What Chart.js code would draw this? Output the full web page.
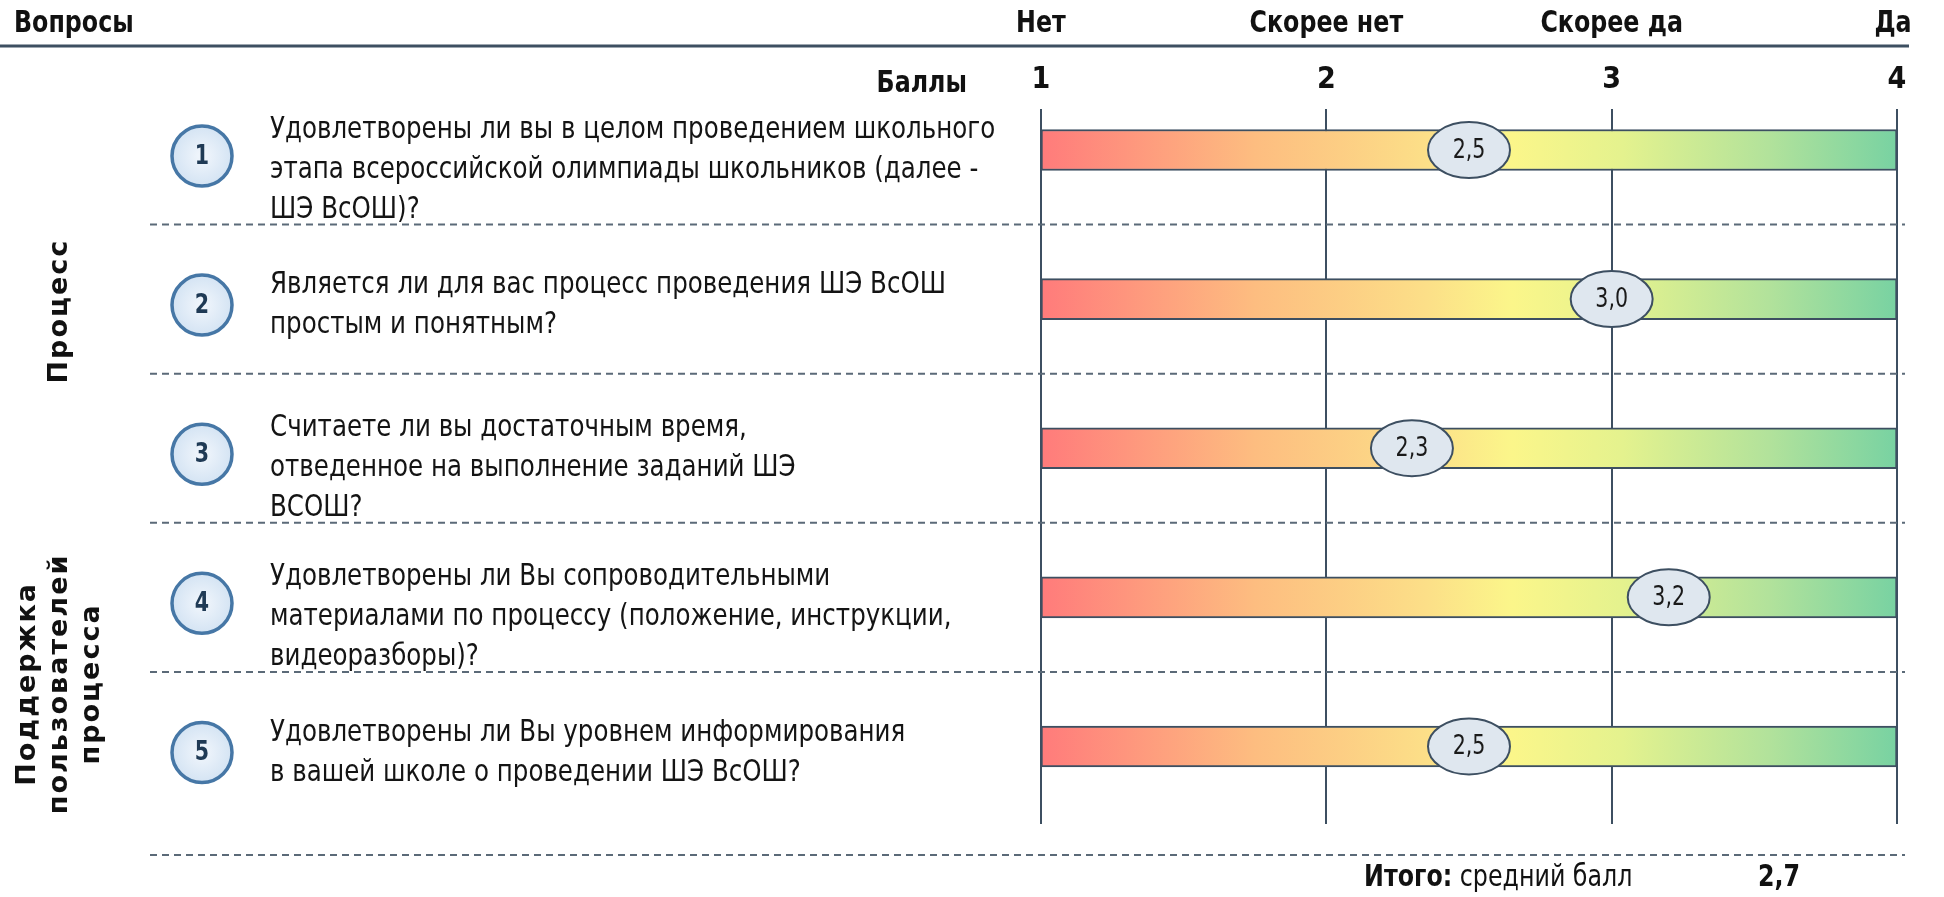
<!DOCTYPE html>
<html lang="ru">
<head>
<meta charset="utf-8">
<title>Оценка ШЭ ВсОШ</title>
<script src="https://cdn.jsdelivr.net/npm/chart.js@4.4.1/dist/chart.umd.min.js"></script>
<style>
    html, body { margin: 0; padding: 0; background: #ffffff; }
    #wrap { width: 1944px; height: 897px; position: relative; }
</style>
</head>
<body>
<div id="wrap"><canvas id="surveyChart" width="1944" height="897"></canvas></div>
<script>
// данные опроса
const questionNumbers = [1, 2, 3, 4, 5];
const questionTexts = [
    ['Удовлетворены ли вы в целом проведением школьного', 'этапа всероссийской олимпиады школьников (далее -', 'ШЭ ВсОШ)?'],
    ['Является ли для вас процесс проведения ШЭ ВсОШ', 'простым и понятным?'],
    ['Считаете ли вы достаточным время,', 'отведенное на выполнение заданий ШЭ', 'ВСОШ?'],
    ['Удовлетворены ли Вы сопроводительными', 'материалами по процессу (положение, инструкции,', 'видеоразборы)?'],
    ['Удовлетворены ли Вы уровнем информирования', 'в вашей школе о проведении ШЭ ВсОШ?']
];
const scores = [2.5, 3.0, 2.3, 3.2, 2.5];
const scaleTicks = [1, 2, 3, 4];
const answerLabels = ['Нет', 'Скорее нет', 'Скорее да', 'Да'];
const groupLabels = [
    { lines: ['Процесс'], from: 1, to: 3 },
    { lines: ['Поддержка', 'пользователей', 'процесса'], from: 4, to: 5 }
];

const narrow = '"Liberation Sans Narrow", "DejaVu Sans Condensed", sans-serif';
const wide = '"DejaVu Sans", "Verdana", sans-serif';
const lineColor = '#3d4f61';
const squeeze = 0.88; // DejaVu Condensed шире, чем Arial Narrow

const fmt = v => v.toFixed(1).replace('.', ',');
const average = scores.reduce((a, b) => a + b, 0) / scores.length;

function narrowText(ctx, text, x, y) {
    ctx.save();
    ctx.translate(x, y);
    ctx.scale(squeeze, 1);
    ctx.fillText(text, 0, 0);
    ctx.restore();
    return ctx.measureText(text).width * squeeze;
}

function barGradient(context) {
    const chart = context.chart;
    if (!chart.chartArea) return '#fbf68a';
    const x = chart.scales.x;
    const g = chart.ctx.createLinearGradient(x.getPixelForValue(1), 0, x.getPixelForValue(4), 0);
    g.addColorStop(0, '#ff7b7b');
    g.addColorStop(0.25, '#fdbd80');
    g.addColorStop(0.45, '#fcdf88');
    g.addColorStop(0.55, '#fbf68a');
    g.addColorStop(0.68, '#e4f28e');
    g.addColorStop(0.85, '#b2e29b');
    g.addColorStop(1, '#78d2a2');
    return g;
}

const decorations = {
    id: 'decorations',
    beforeDatasetsDraw(chart) {
        const { ctx, chartArea } = chart;
        const x = chart.scales.x;
        const y = chart.scales.y;
        ctx.save();

        // шапка
        ctx.strokeStyle = lineColor;
        ctx.lineWidth = 3;
        ctx.beginPath();
        ctx.moveTo(0, 46);
        ctx.lineTo(1909, 46);
        ctx.stroke();

        ctx.fillStyle = '#111';
        ctx.font = 'bold 30px ' + narrow;
        ctx.textBaseline = 'middle';
        ctx.textAlign = 'left';
        narrowText(ctx, 'Вопросы', 14, 24);
        ctx.textAlign = 'center';
        answerLabels.forEach((lab, i) => {
            let px = x.getPixelForValue(scaleTicks[i]);
            if (i === answerLabels.length - 1) px -= 4;
            narrowText(ctx, lab, px, 24);
        });
        ctx.textAlign = 'right';
        narrowText(ctx, 'Баллы', chartArea.left - 74, 84);

        // пунктирные разделители
        ctx.strokeStyle = '#5b6a78';
        ctx.lineWidth = 2;
        ctx.setLineDash([7, 5]);
        const seps = questionNumbers.slice(0, -1).map(n => y.getPixelForValue(n + 0.5));
        seps.push(chartArea.bottom + 31);
        seps.forEach(py => {
            ctx.beginPath();
            ctx.moveTo(150, py);
            ctx.lineTo(1905, py);
            ctx.stroke();
        });
        ctx.setLineDash([]);

        // вопросы
        questionNumbers.forEach((n, i) => {
            const cy = y.getPixelForValue(n) + 6;
            const grd = ctx.createRadialGradient(202, cy, 4, 202, cy, 31);
            grd.addColorStop(0, '#eef4fb');
            grd.addColorStop(1, '#d3e3f3');
            ctx.beginPath();
            ctx.arc(202, cy, 30, 0, Math.PI * 2);
            ctx.fillStyle = grd;
            ctx.fill();
            ctx.lineWidth = 3.5;
            ctx.strokeStyle = '#4677a6';
            ctx.stroke();
            ctx.fillStyle = '#1f3a55';
            ctx.font = 'bold 26px ' + narrow;
            ctx.textAlign = 'center';
            narrowText(ctx, String(n), 202, cy + 1);

            const lines = questionTexts[i];
            ctx.fillStyle = '#141414';
            ctx.font = '31px ' + narrow;
            ctx.textAlign = 'left';
            const top = cy - (lines.length === 2 ? 20 : 26);
            lines.forEach((t, k) => narrowText(ctx, t, 270, top + k * 40));
        });

        // группы
        ctx.fillStyle = '#111';
        ctx.font = 'bold 27px ' + wide;
        ctx.textAlign = 'center';
        if ('letterSpacing' in ctx) ctx.letterSpacing = '2px';
        groupLabels.forEach(g => {
            const cy = (y.getPixelForValue(g.from) + y.getPixelForValue(g.to)) / 2 + 12;
            const lh = 32;
            ctx.save();
            ctx.translate(60, cy);
            ctx.rotate(-Math.PI / 2);
            g.lines.forEach((t, k) => {
                ctx.fillText(t, 0, (k - (g.lines.length - 1) / 2) * lh);
            });
            ctx.restore();
        });
        if ('letterSpacing' in ctx) ctx.letterSpacing = '0px';

        // итог
        ctx.textAlign = 'left';
        ctx.fillStyle = '#111';
        ctx.font = 'bold 30px ' + narrow;
        const w = narrowText(ctx, 'Итого:', 1364, 878);
        ctx.font = '30px ' + narrow;
        narrowText(ctx, ' средний балл', 1364 + w, 878);
        ctx.font = 'bold 30px ' + narrow;
        narrowText(ctx, fmt(average), 1758, 878);
        ctx.restore();
    },
    afterDatasetsDraw(chart) {
        const { ctx } = chart;
        const meta = chart.getDatasetMeta(1);
        ctx.save();
        meta.data.forEach((pt, i) => {
            ctx.beginPath();
            ctx.ellipse(pt.x, pt.y, 41, 28, 0, 0, Math.PI * 2);
            ctx.fillStyle = '#dfe7ef';
            ctx.fill();
            ctx.lineWidth = 2;
            ctx.strokeStyle = lineColor;
            ctx.stroke();
            ctx.fillStyle = '#1a1a1a';
            ctx.font = '26px ' + narrow;
            ctx.textAlign = 'center';
            ctx.textBaseline = 'middle';
            narrowText(ctx, fmt(scores[i]), pt.x, pt.y + 1);
        });
        ctx.restore();
    }
};

const ctx = document.getElementById('surveyChart').getContext('2d');
const surveyChart = new Chart(ctx, {
    type: 'bar',
    data: {
        datasets: [{
            label: 'Шкала',
            data: questionNumbers.map(n => ({ x: [scaleTicks[0], scaleTicks[scaleTicks.length - 1]], y: n })),
            backgroundColor: barGradient,
            borderColor: lineColor,
            borderWidth: 2,
            borderSkipped: false,
            barThickness: 41
        }, {
            type: 'scatter',
            label: 'Средний балл',
            data: questionNumbers.map((n, i) => ({ x: scores[i], y: n })),
            pointRadius: 0,
            pointHoverRadius: 0
        }]
    },
    options: {
        indexAxis: 'y',
        responsive: false,
        animation: false,
        layout: { padding: { left: 1041, right: 47, top: 0, bottom: 73 } },
        plugins: {
            legend: { display: false },
            tooltip: { enabled: false }
        },
        scales: {
            x: {
                type: 'linear',
                position: 'top',
                min: 1,
                max: 4,
                afterFit: s => { s.height = 109; },
                afterBuildTicks: s => { s.ticks = scaleTicks.map(v => ({ value: v })); },
                ticks: {
                    color: '#111',
                    padding: 11,
                    font: { family: narrow, size: 30, weight: 'bold' }
                },
                grid: {
                    color: lineColor,
                    lineWidth: 2,
                    drawTicks: false
                },
                border: { display: false }
            },
            y: {
                type: 'linear',
                reverse: true,
                offset: false,
                min: 0.725,
                max: 5.52,
                display: false
            }
        }
    },
    plugins: [decorations]
});
</script>
</body>
</html>
